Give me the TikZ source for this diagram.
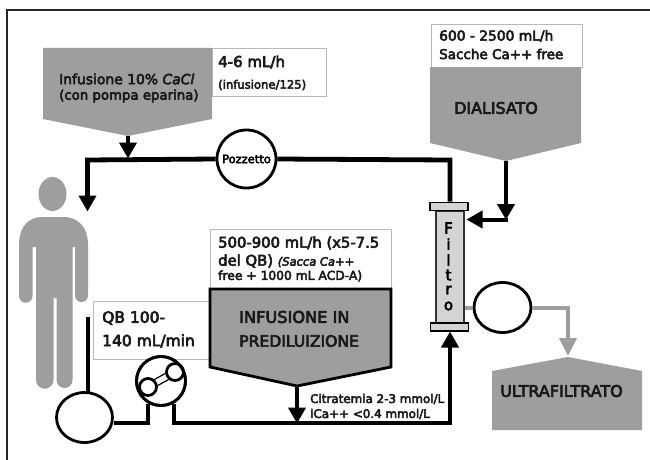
\documentclass[tikz,border=0pt]{standalone}
\usepackage{fontspec}
\setmainfont{DejaVu Sans}[FakeBold=4]
\usetikzlibrary{arrows.meta,shapes.geometric}
\definecolor{tankgray}{gray}{0.62}
\definecolor{boxedge}{gray}{0.72}
\definecolor{filtergray}{gray}{0.83}
\tikzset{
  x=1pt,y=-1pt,
  pipe/.style={line width=4.8pt,line cap=butt,line join=miter,black},
  lowpipe/.style={line width=4pt,line cap=butt,line join=miter,black},
  gpipe/.style={line width=4pt,line join=miter,tankgray},
  flow/.style={pipe,-{Triangle[width=17pt,length=16pt]},shorten >=-0.5pt},
  lowflow/.style={lowpipe,-{Triangle[width=17pt,length=16pt]},shorten >=-0.5pt},
  gflow/.style={gpipe,-{Triangle[width=17pt,length=18pt]}},
  tank/.style={fill=tankgray,draw=none},
  infobox/.style={fill=white,draw=boxedge,line width=0.9pt},
  ring/.style={draw=black,line width=2.8pt,fill=white,ellipse,inner sep=0pt},
  lbl/.style={anchor=west,inner sep=0pt,font=\fontsize{#1}{#1}\selectfont,text=black!90},
  lbl/.default=13,
}
\begin{document}
\begin{tikzpicture}
\useasboundingbox (0,0) rectangle (650,460);
\fill[white] (0,0) rectangle (650,460);
% frame
\draw[line width=1.1pt,black!85] (7,460) -- (7,10) -- (650,10);

% info boxes
\node[infobox,minimum width=114pt,minimum height=48pt,inner sep=0pt] (boxca) at (269,72) {};
\node[infobox,minimum width=151pt,minimum height=43pt,inner sep=0pt] (boxdial) at (506.5,45.5) {};
\node[infobox,minimum width=117pt,minimum height=58pt,inner sep=0pt] (boxqb) at (151.5,330) {};
\node[infobox,minimum width=181pt,minimum height=60pt,inner sep=0pt] (boxpre) at (300.5,259) {};

% tanks
\fill[tank] (43,48) -- (212,48) -- (212,119) -- (128,136) -- (43,119) -- cycle;
\coordinate (tipca) at (128,136);
\fill[tank] (430,67) -- (581,67) -- (581,143) -- (506,161) -- (430,143) -- cycle;
\coordinate (tipdial) at (506,161);
\fill[tank] (492,430) -- (492,371) -- (568,357) -- (642,371) -- (642,430) -- cycle;
\coordinate (tipuf) at (568,356);
\draw[tank,draw=black,line width=2.8pt,line join=miter] (210,289) -- (391,289) -- (391,367) -- (297,386) -- (210,367) -- cycle;
\coordinate (tippre) at (297,386);

% person
\fill[tankgray] (52.5,194) ellipse[x radius=14,y radius=17];
\fill[tankgray] (19,296) -- (19,245)
  .. controls (19,225) and (30,217) .. (42,217)
  -- (64,217) .. controls (76,217) and (88,225) .. (88,245)
  -- (88,295.5) arc[start angle=0,end angle=180,radius=6.5] -- (75,247) -- (72.5,247)
  -- (72.5,380) arc[start angle=0,end angle=180,radius=8] -- (56.5,298) -- (53.5,298) -- (53.5,380)
  arc[start angle=0,end angle=180,radius=8.75] -- (36,247) -- (32.5,247) -- (32.5,296)
  arc[start angle=0,end angle=180,radius=6.75] -- cycle;

% filter
\node[draw=black!80,line width=1.4pt,fill=filtergray,minimum width=28pt,minimum height=112pt,inner sep=0pt] (filt) at (450,267) {};
\node[draw=black,line width=1.8pt,fill=filtergray,minimum width=38pt,minimum height=8pt,inner sep=0pt] (captop) at (449,206.5) {};
\node[draw=black,line width=1.8pt,fill=filtergray,minimum width=38pt,minimum height=8pt,inner sep=0pt] (capbot) at (449.5,327) {};
\foreach \ch/\yy in {F/228,i/244,l/260,t/275,r/290,o/306}{
  \node[inner sep=0pt,font=\fontsize{15}{15}\selectfont] at (448.5,\yy) {\ch};
}

% rings
\node[ring,minimum width=59pt,minimum height=58pt] (pozz) at (246.5,159) {};
\node[ring,minimum width=56pt,minimum height=50pt] (access) at (84.5,417.5) {};
\node[ring,minimum width=49pt,minimum height=49pt] (pump) at (161,381) {};
\node[ring,minimum width=57pt,minimum height=50pt] (effl) at (502.5,307.5) {};
\node[inner sep=0pt,font=\fontsize{11.5}{11.5}\selectfont] at (pozz) {Pozzetto};

% pump rotor
\node[ring,minimum width=17pt,minimum height=17pt] (rotora) at (148,387) {};
\node[ring,minimum width=17pt,minimum height=17pt] (rotorb) at (175,372) {};
\draw[line width=1.2pt] (157.6,385.6) -- (168.8,379.4) (154.2,379.6) -- (165.4,373.4);

% coordinates for pipes
\coordinate (corner1) at (87.5,160);
\coordinate (persontip) at (87.5,211);
\coordinate (c2) at (450,160);
\coordinate (accessin) at (87.5,317);
\coordinate (dj) at (506,219.5);
\coordinate (dtip) at (467,219.5);
\coordinate (p1) at (148,423);
\coordinate (p2) at (174,423);
\coordinate (p3) at (450,423);
\coordinate (j2) at (297,423);

% pipes
\draw[pipe] (pozz.west) -- (corner1) -- (87.5,178);
\draw[flow] (87.5,170) -- (persontip);
\draw[flow] (tipca) -- (128,158);
\draw[pipe] (pozz.east) -- (c2) -- (captop.north -| c2);
\draw[flow] (tipdial) -- (dj);
\draw[lowflow] (508,219.5) -- (dtip);
\draw[lowpipe] (accessin) -- (87.5,392);
\draw[lowpipe] (access.east |- p1) -- (p1) -- (148,404);
\draw[lowpipe] (174,404) -- (p2) -- (452,423);
\draw[flow] (p3) ++(0,2) -- (450,332);
\draw[lowflow] (tippre) -- (j2);
\draw[gpipe] (filt.east |- effl) -- (effl.west);
\draw[gpipe] (effl.east) -- (568,307.5) -- (568,320);
\draw[gflow] (568,310) -- (tipuf);
\node[ring,fill=none,minimum width=49pt,minimum height=49pt] at (pump) {};

% labels
\node[lbl=13.9] at (59,79) {Infusione 10\% \textit{CaCl}};
\node[lbl=13.3] at (59,96) {(con pompa eparina)};
\node[lbl=15] at (218,62) {4-6 mL/h};
\node[lbl=11.6] at (218,85) {(infusione/125)};
\node[lbl=13.8] at (439,36) {600 - 2500 mL/h};
\node[lbl=13.5] at (439,54) {Sacche Ca++ free};
\node[lbl=15.9] at (454,108) {DIALISATO};
\node[lbl=15.5] at (102,318) {QB 100-};
\node[lbl=15.5] at (102,341) {140 mL/min};
\node[lbl=14.8] at (218,243) {500-900 mL/h (x5-7.5};
\node[lbl=14.8] at (218,261) {del QB) {\fontsize{11.5}{11.5}\selectfont\textit{(Sacca Ca++}}};
\node[lbl=12.3] at (218,276) {free + 1000 mL ACD-A)};
\node[lbl=16.2] at (239,317) {INFUSIONE IN};
\node[lbl=15.6] at (239,341) {PREDILUIZIONE};
\node[lbl=11.9] at (310,399) {Citratemia 2-3 mmol/L};
\node[lbl=11.9] at (310,414) {iCa++ <0.4 mmol/L};
\node[lbl=16] at (500,391) {ULTRAFILTRATO};
\end{tikzpicture}
\end{document}
